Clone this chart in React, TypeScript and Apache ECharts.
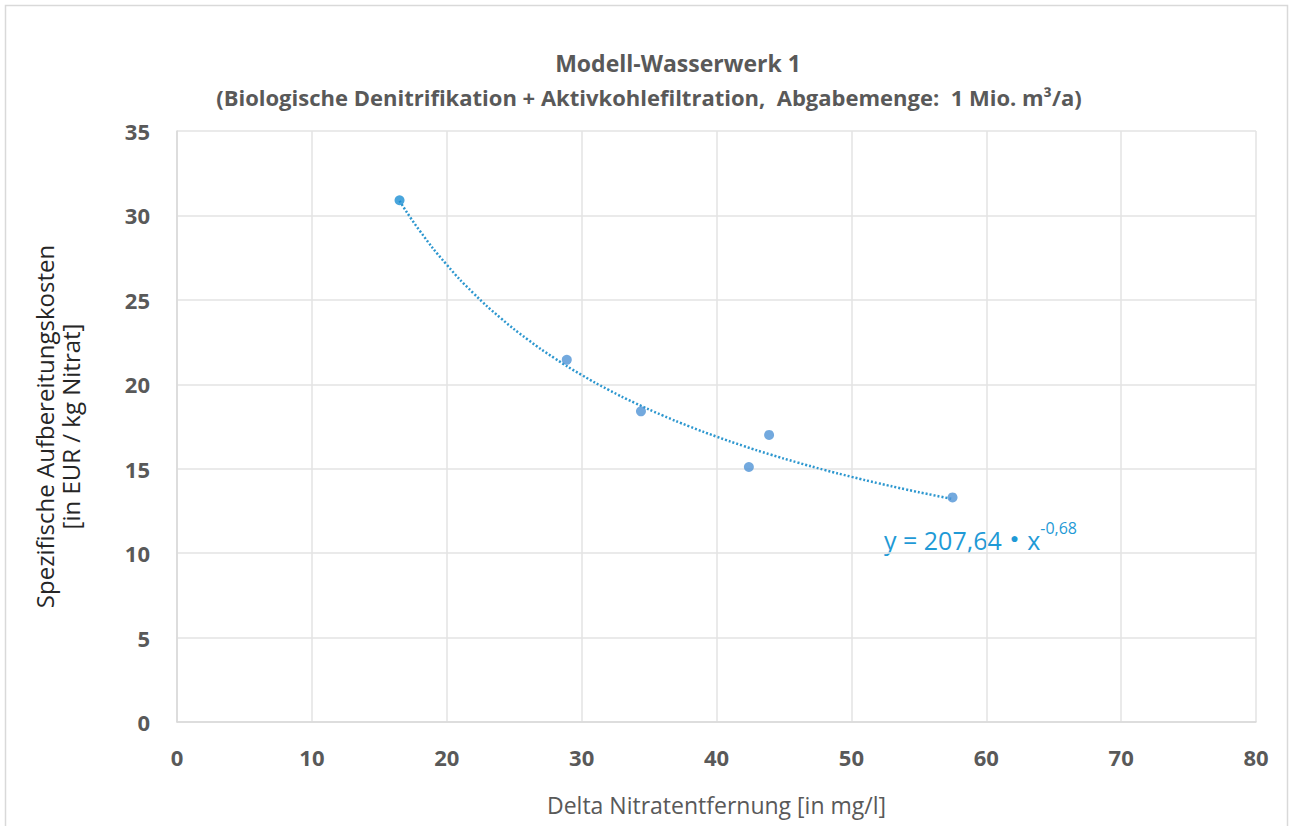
import React, { useEffect, useRef } from "react";
import * as echarts from "echarts";

const titleLines = [
  "Modell-Wasserwerk 1",
  "(Biologische Denitrifikation + Aktivkohlefiltration,  Abgabemenge:  1 Mio. m³/a)",
];
const xName = "Delta Nitratentfernung [in mg/l]";
const yName = "Spezifische Aufbereitungskosten\n[in EUR / kg Nitrat]";

const xValues = [16.5, 28.9, 34.4, 42.4, 43.9, 57.5];
const yValues = [30.9, 21.45, 18.4, 15.1, 17.0, 13.3];

const trendCoef = 207.64;
const trendExp = -0.68;
const trendX = [
  16.5, 18, 20, 22, 24, 26, 28, 30, 32, 34, 36, 38, 40, 42, 44, 46, 48, 50, 52, 54, 56, 57.5,
];

const FONT = "'Open Sans', sans-serif";

export default function App() {
  const ref = useRef<HTMLDivElement>(null);
  useEffect(() => {
    document.body.style.margin = "0";
    if (!ref.current) return;
    const chart = echarts.init(ref.current, null, { renderer: "svg" });
    const points = xValues.map((x, i) => ({
      value: [x, yValues[i]],
      itemStyle: { color: i === 0 ? "#1b8fd3" : "#5093d6" },
    }));
    const trend = trendX.map((x) => [x, trendCoef * Math.pow(x, trendExp)]);
    chart.setOption({
      animation: false,
      backgroundColor: "#ffffff",
      textStyle: { fontFamily: FONT },
      title: [
        {
          text: titleLines[0],
          left: 673,
          top: 46,
          textAlign: "center",
          textStyle: { fontFamily: FONT, fontSize: 23, fontWeight: "bold", color: "#595959" },
        },
        {
          text: titleLines[1],
          left: 644,
          top: 81,
          textAlign: "center",
          textStyle: { fontFamily: FONT, fontSize: 22, fontWeight: "bold", color: "#595959" },
        },
      ],
      grid: { left: 177, right: 34, top: 131, bottom: 104, containLabel: false },
      xAxis: {
        type: "value",
        min: 0,
        max: 80,
        interval: 10,
        name: xName,
        nameLocation: "middle",
        nameGap: 71,
        nameTextStyle: { fontFamily: FONT, fontSize: 23, color: "#595959" },
        axisLine: { show: true, lineStyle: { color: "#d9d9d9", width: 1.5 } },
        axisTick: { show: false },
        axisLabel: { margin: 24, fontFamily: FONT, fontSize: 22, fontWeight: "bold", color: "#595959" },
        splitLine: { show: true, lineStyle: { color: "#e3e3e3", width: 1.5 } },
      },
      yAxis: {
        type: "value",
        min: 0,
        max: 35,
        interval: 5,
        name: yName,
        nameLocation: "middle",
        nameGap: 94,
        nameRotate: 90,
        nameTextStyle: { fontFamily: FONT, fontSize: 24, color: "#262626", lineHeight: 26 },
        axisLine: { show: true, lineStyle: { color: "#d9d9d9", width: 1.5 } },
        axisTick: { show: false },
        axisLabel: { margin: 27, fontFamily: FONT, fontSize: 22, fontWeight: "bold", color: "#595959" },
        splitLine: { show: true, lineStyle: { color: "#e3e3e3", width: 1.5 } },
      },
      series: [
        {
          type: "line",
          data: trend,
          smooth: true,
          showSymbol: false,
          lineStyle: { color: "#2d97cf", width: 2.5, type: [2, 2] },
          z: 2,
        },
        {
          type: "scatter",
          data: points,
          symbolSize: 10,
          z: 3,
        },
      ],
      graphic: [
        {
          type: "rect",
          shape: { x: 5.5, y: 5.5, width: 1282, height: 840 },
          style: { fill: "none", stroke: "#d9d9d9", lineWidth: 1.5 },
          silent: true,
        },
        {
          type: "text",
          left: 884,
          top: 520,
          style: {
            text: "{a|y = 207,64 }{b|●}{a| x}{s|-0,68}",
            rich: {
              a: { fontFamily: FONT, fontSize: 25, fill: "#1f9ad6", lineHeight: 32, verticalAlign: "bottom" },
              b: { fontFamily: FONT, fontSize: 14, fill: "#1f9ad6", lineHeight: 32, verticalAlign: "bottom", padding: [0, 2, 8, 2] },
              s: { fontFamily: FONT, fontSize: 16, fill: "#1f9ad6", lineHeight: 32, verticalAlign: "top" },
            },
          },
        },
      ],
    });
    return () => chart.dispose();
  }, []);
  return <div ref={ref} style={{ width: 1290, height: 826 }} />;
}
